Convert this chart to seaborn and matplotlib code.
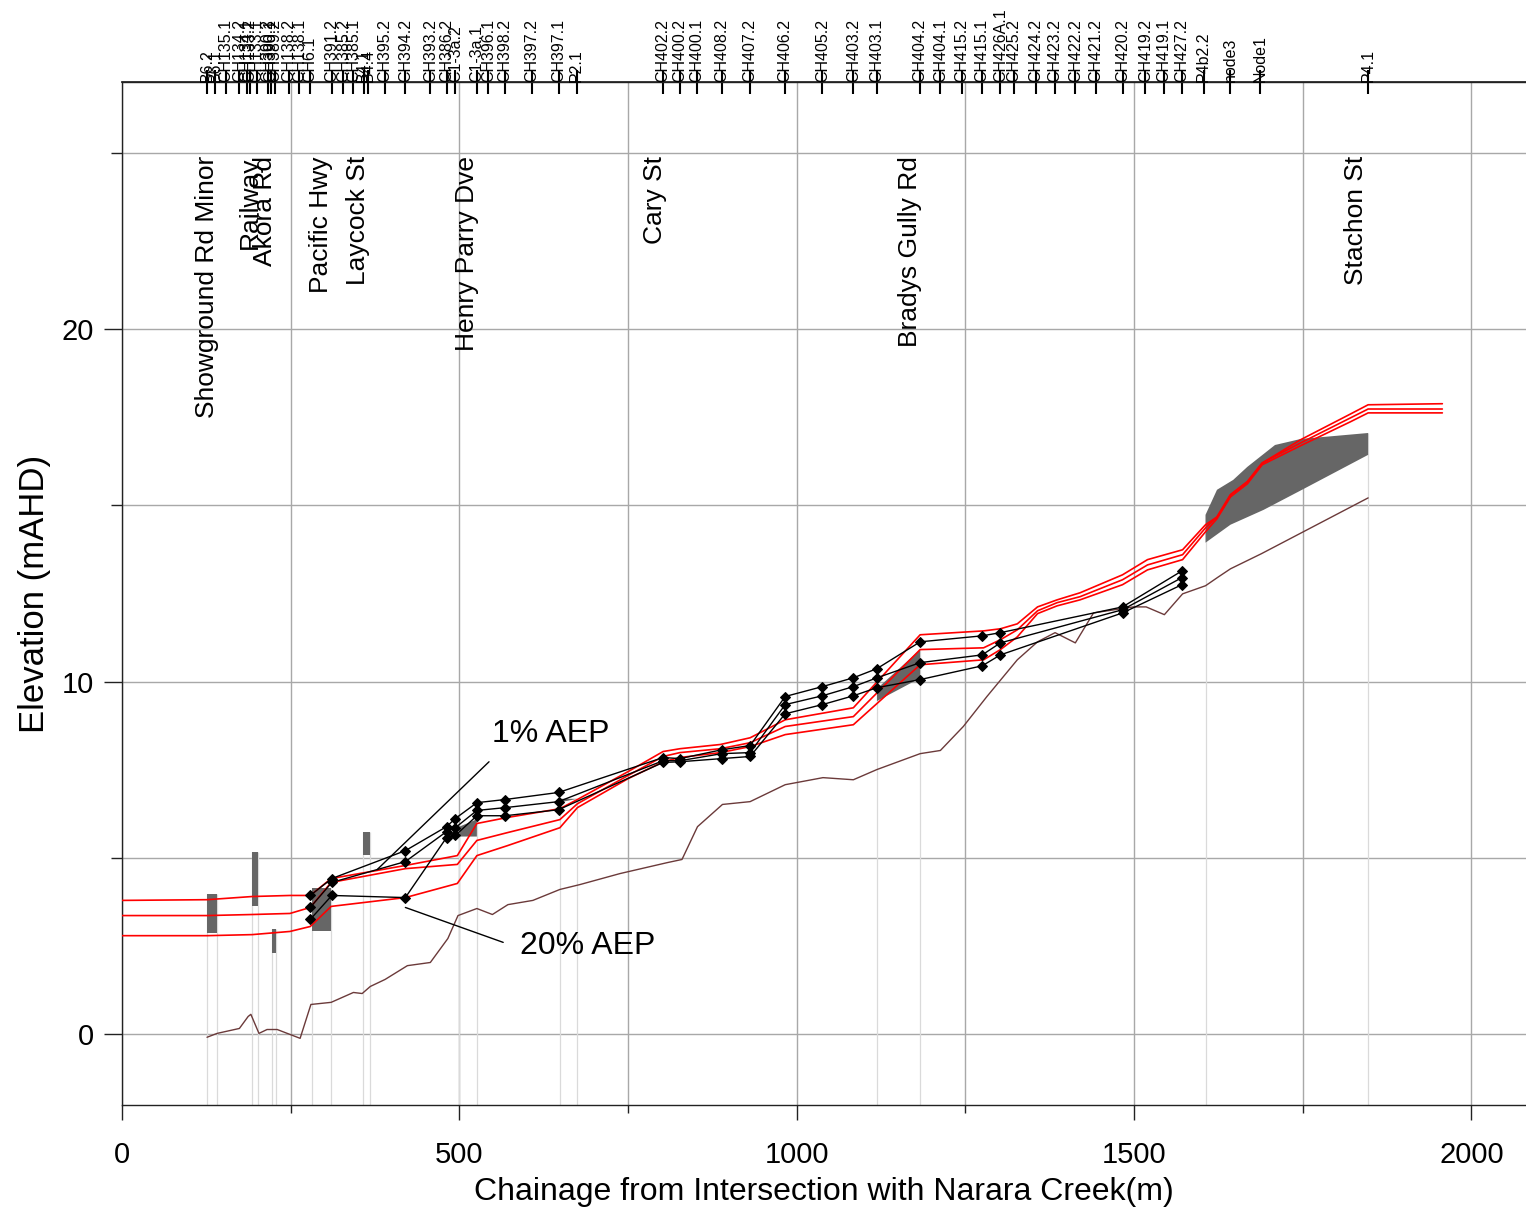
import numpy as np
import pandas as pd
import matplotlib
matplotlib.use("Agg")
import matplotlib.pyplot as plt
import matplotlib.transforms as mtransforms
import seaborn as sns

# ---------------- data ----------------
node_names = ["B6.2", "B6.1", "CH135.1", "CH134.2", "CH134.1", "CH133.2", "CH133.1",
              "CH390.2", "CH390.1", "CH389.2", "CH138.2", "CH138.1", "CH6.1",
              "CH391.2", "CH385.2", "CH385.1", "B4.1", "B4.4", "CH395.2", "CH394.2",
              "CH393.2", "CH386.2", "C1-3a.2", "C1-3a.1", "CH396.1", "CH398.2",
              "CH397.2", "CH397.1", "P2.1", "CH402.2", "CH400.2", "CH400.1", "CH408.2",
              "CH407.2", "CH406.2", "CH405.2", "CH403.2", "CH403.1", "CH404.2",
              "CH404.1", "CH415.2", "CH415.1", "CH426A.1", "CH425.2", "CH424.2",
              "CH423.2", "CH422.2", "CH421.2", "CH420.2", "CH419.2", "CH419.1",
              "CH427.2", "P4b2.2", "node3", "Node1", "P4.1"]
node_chainage = [126, 138, 154, 174, 185, 190, 200, 216, 221, 227, 247, 263, 279,
                 311, 328, 343, 358, 365, 390, 420, 457, 481, 494, 526, 543, 568,
                 607, 647, 674, 802, 827, 852, 889, 931, 983, 1038, 1084, 1119, 1183,
                 1213, 1245, 1275, 1302, 1322, 1354, 1383, 1413, 1443, 1483, 1517,
                 1544, 1571, 1603, 1643, 1687, 1847]

road_names = ["Showground Rd Minor", "Railway", "Akora Rd", "Pacific Hwy", "Laycock St",
              "Henry Parry Dve", "Cary St", "Bradys Gully Rd", "Stachon St"]
road_chainage = [126, 190, 212, 295, 350, 511, 790, 1168, 1829]

# flood levels along main channel (red)
red_x = [0, 126, 193, 249, 279, 310, 420, 497, 526, 571, 649, 675, 750, 802, 827,
         887, 931, 983, 1084, 1183, 1277, 1302, 1327, 1357, 1386, 1420, 1483, 1520,
         1572, 1606, 1623, 1643, 1668, 1690, 1747, 1821, 1847, 1957]
red_1 = [3.80, 3.82, 3.91, 3.94, 3.94, 4.42, 4.79, 5.07, 5.98, 6.15, 6.40, 6.66,
         7.45, 8.02, 8.10, 8.22, 8.41, 8.92, 9.26, 11.33, 11.44, 11.50, 11.64, 12.12,
         12.32, 12.52, 13.03, 13.46, 13.74, 14.45, 14.67, 15.30, 15.67, 16.20, 16.86,
         17.59, 17.85, 17.88]
red_2 = [3.37, 3.37, 3.40, 3.43, 3.60, 4.31, 4.70, 4.82, 5.50, 5.72, 6.09, 6.54,
         7.34, 7.88, 7.99, 8.10, 8.27, 8.73, 9.01, 10.91, 10.96, 11.19, 11.47, 12.01,
         12.24, 12.41, 12.89, 13.31, 13.60, 14.36, 14.67, 15.30, 15.67, 16.20, 16.77,
         17.48, 17.73, 17.73]
red_3 = [2.80, 2.80, 2.83, 2.92, 3.06, 3.63, 3.88, 4.28, 5.07, 5.35, 5.86, 6.43,
         7.25, 7.73, 7.85, 7.99, 8.16, 8.50, 8.78, 10.48, 10.62, 10.91, 11.27, 11.93,
         12.15, 12.32, 12.75, 13.17, 13.46, 14.25, 14.62, 15.24, 15.61, 16.15, 16.69,
         17.37, 17.62, 17.62]

# node water levels (black with diamonds)
blk_x = [279, 311, 420, 481, 494, 526, 568, 647, 802, 827, 889, 931, 983, 1038,
         1084, 1119, 1183, 1275, 1302, 1483, 1571]
blk_1 = [3.94, 4.42, 5.21, 5.89, 6.12, 6.57, 6.66, 6.86, 7.85, 7.82, 8.07, 8.19,
         9.58, 9.86, 10.11, 10.37, 11.13, 11.30, 11.39, 12.12, 13.14]
blk_2 = [3.60, 4.31, 4.90, 5.75, 5.86, 6.35, 6.43, 6.60, 7.76, 7.76, 7.96, 7.99,
         9.35, 9.60, 9.86, 10.11, 10.54, 10.76, 11.10, 12.04, 12.95]
blk_3 = [3.26, 3.94, 3.88, 5.58, 5.64, 6.20, 6.20, 6.37, 7.71, 7.73, 7.82, 7.88,
         9.09, 9.35, 9.60, 9.83, 10.06, 10.45, 10.76, 11.95, 12.75]

# channel bed
bed_x = [126, 141, 174, 187, 191, 203, 215, 230, 264, 280, 310, 343, 356, 368, 390,
         423, 457, 483, 498, 526, 549, 572, 609, 649, 679, 738, 808, 830, 853, 890,
         931, 983, 1039, 1084, 1119, 1183, 1213, 1247, 1282, 1327, 1357, 1383, 1413,
         1440, 1499, 1518, 1545, 1572, 1606, 1625, 1643, 1689, 1847]
bed_y = [-0.08, 0.03, 0.17, 0.51, 0.57, 0.03, 0.14, 0.14, -0.11, 0.85, 0.91, 1.19,
         1.16, 1.36, 1.56, 1.95, 2.04, 2.72, 3.37, 3.57, 3.40, 3.68, 3.80, 4.11, 4.25,
         4.56, 4.87, 4.96, 5.89, 6.52, 6.60, 7.08, 7.28, 7.22, 7.51, 7.96, 8.05, 8.73,
         9.58, 10.62, 11.13, 11.39, 11.10, 11.95, 12.12, 12.12, 11.90, 12.49, 12.72,
         12.97, 13.20, 13.63, 15.21]

# rectangular structures (culverts / bridges)
rect_x0 = [126, 193, 222, 281, 357]
rect_x1 = [141, 202, 228, 310, 368]
rect_bot = [2.89, 3.65, 2.32, 2.92, 5.10]
rect_top = [3.97, 5.16, 3.00, 4.14, 5.75]

# polygon structures
hp_x = [500, 526, 526, 500]
hp_y = [5.89, 6.10, 5.61, 5.61]
cs_x = [649, 675, 649]
cs_y = [6.68, 6.68, 6.58]
bg_x = [1119, 1183, 1183, 1119]
bg_y = [9.80, 10.91, 10.10, 9.45]
st_x = [1606, 1623, 1647, 1668, 1709, 1747, 1847, 1847, 1749, 1692, 1643, 1606]
st_y = [14.73, 15.44, 15.72, 16.09, 16.71, 16.88, 17.05, 16.43, 15.44, 14.87, 14.45, 13.94]

# faint structure verticals
vline_x = [126, 141, 193, 202, 222, 228, 281, 310, 357, 368, 500, 526, 649, 675,
           1119, 1183, 1606, 1847]
vline_top = [3.97, 3.97, 5.16, 5.16, 3.00, 3.00, 4.14, 4.14, 5.75, 5.75, 5.89, 6.10,
             6.68, 6.68, 9.80, 10.91, 14.73, 17.05]

# annotations
lead1_x = [378, 544]
lead1_y = [4.67, 7.73]
lead20_x = [420, 565]
lead20_y = [3.60, 2.61]

# ---------------- plot ----------------
sns.set_theme(style="white")
plt.rcParams["font.family"] = ["Liberation Sans", "DejaVu Sans"]
plt.rcParams["text.color"] = "black"
plt.rcParams["axes.labelcolor"] = "black"
plt.rcParams["xtick.color"] = "black"
plt.rcParams["ytick.color"] = "black"

fig = plt.figure(figsize=(15.26, 12.09), dpi=100)
ax = fig.add_axes([122 / 1526, 104 / 1209, 1404 / 1526, 1023 / 1209])
ax.set_xlim(0, 2081)
ax.set_ylim(-2, 27)

ax.set_xticks([0, 500, 1000, 1500, 2000])
ax.set_xticks([250, 750, 1250, 1750], minor=True)
ax.set_yticks([0, 10, 20])
ax.set_yticks([5, 15, 25], minor=True)
ax.grid(which="both", color="#a8a8a8", lw=1.0)
ax.set_axisbelow(True)

for sp in ["left", "bottom", "top"]:
    ax.spines[sp].set_color("#222222")
    ax.spines[sp].set_linewidth(1.0)
ax.spines["right"].set_visible(False)

ax.tick_params(axis="x", which="major", direction="out", length=11, width=1,
               labelsize=21, pad=15, bottom=True, top=False, colors="#222222",
               labelcolor="black")
ax.tick_params(axis="x", which="minor", direction="out", length=6, width=1,
               bottom=True, top=False, colors="#222222")
ax.tick_params(axis="y", which="major", direction="out", length=13, width=1,
               labelsize=21, pad=7, left=True, colors="#222222", labelcolor="black")
ax.tick_params(axis="y", which="minor", direction="out", length=8, width=1,
               left=True, colors="#222222")

# faint structure lines
ax.vlines(vline_x, -2, vline_top, colors="#dadada", lw=0.9, zorder=1)

# structures
for x0, x1, b, t in zip(rect_x0, rect_x1, rect_bot, rect_top):
    ax.fill_between([x0, x1], [b, b], [t, t], color="#666666", lw=0, zorder=2)
for px, py in [(hp_x, hp_y), (cs_x, cs_y), (bg_x, bg_y), (st_x, st_y)]:
    ax.fill(px, py, color="#666666", lw=0, zorder=2)

# bed
sns.lineplot(x=bed_x, y=bed_y, ax=ax, color="#6b3a3a", lw=1.0, sort=False,
             estimator=None, zorder=3)

# red flood lines
for ry in [red_3, red_2, red_1]:
    sns.lineplot(x=red_x, y=ry, ax=ax, color="#ff0000", lw=1.2, sort=False,
                 estimator=None, zorder=4)

# black node levels
for by in [blk_1, blk_2, blk_3]:
    sns.lineplot(x=blk_x, y=by, ax=ax, color="black", lw=1.0, sort=False,
                 estimator=None, marker="D", markersize=5.5, markeredgecolor="black",
                 markerfacecolor="black", zorder=5)

# annotations
ax.plot(lead1_x, lead1_y, color="black", lw=1.0, zorder=5)
ax.plot(lead20_x, lead20_y, color="black", lw=1.0, zorder=5)
ax.text(548, 8.53, "1% AEP", fontsize=23, ha="left", va="center", zorder=6)
ax.text(590, 2.52, "20% AEP", fontsize=23, ha="left", va="center", zorder=6)

# road labels
for name, cx in zip(road_names, road_chainage):
    ax.text(cx, 24.9, name, rotation=90, ha="center", va="top", fontsize=19, zorder=6)

# node ticks and labels at top
secax = ax.secondary_xaxis("top")
secax.set_xticks(node_chainage)
secax.set_xticklabels([""] * len(node_chainage))
secax.tick_params(axis="x", direction="inout", length=17, width=1.5, color="black")
secax.spines["top"].set_color("#222222")
trans = mtransforms.blended_transform_factory(ax.transData, ax.transAxes)
for name, cx in zip(node_names, node_chainage):
    ax.text(cx, 1.0, name, transform=trans, rotation=90, ha="center", va="bottom",
            fontsize=11.5, clip_on=False)

ax.set_xlabel("Chainage from Intersection with Narara Creek(m)", fontsize=23, labelpad=6)
ax.set_ylabel("Elevation (mAHD)", fontsize=25, labelpad=8)

fig.savefig("out.png", dpi=100)
